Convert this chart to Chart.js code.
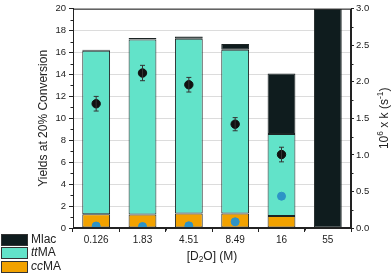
<!DOCTYPE html>
<html>
<head>
<meta charset="utf-8">
<script src="https://cdn.jsdelivr.net/npm/chart.js@4/dist/chart.umd.min.js"></script>
<style>
  body { margin: 0; background: #fff; }
  #wrap { position: relative; width: 392px; height: 277px; }
  .leg { position: absolute; left: 1px; font: 12px "Liberation Sans", Arial, sans-serif; color: #222; }
  .leg span.sw { position: absolute; left: 0; top: 0; width: 25px; height: 10px; border: 1px solid #333; }
  .leg span.tx { position: absolute; left: 30px; top: -2px; white-space: nowrap; }
</style>
</head>
<body>
<div id="wrap">
  <canvas id="myCanvas" width="392" height="277"></canvas>
  <div class="leg" style="top:234px"><span class="sw" style="background:#0f1c1e"></span><span class="tx">Mlac</span></div>
  <div class="leg" style="top:247px"><span class="sw" style="background:#62e3c9"></span><span class="tx"><i>tt</i>MA</span></div>
  <div class="leg" style="top:261px"><span class="sw" style="background:#f2a200"></span><span class="tx"><i>cc</i>MA</span></div>
</div>
<script>
// datos
const concentraciones = ['0.126', '1.83', '4.51', '8.49', '16', '55'];
const ccMA = [1.26, 1.23, 1.32, 1.32, 1.1, 0];
const ttMA = [14.9, 15.96, 15.93, 14.94, 7.48, 0];
const mlac = [0.1, 0.13, 0.22, 0.51, 5.52, 20];
const kNegro = [1.70, 2.12, 1.96, 1.42, 1.005, null];
const kNegroErr = [0.10, 0.105, 0.10, 0.09, 0.10, null];
const kAzul = [0.027, 0.02, 0.03, 0.085, 0.435, null];
const ticksIzq = [0, 2, 4, 6, 8, 10, 12, 14, 16, 18, 20];
const ticksDer = [0, 0.5, 1.0, 1.5, 2.0, 2.5, 3.0];

const FONT = '"Liberation Sans", Arial, sans-serif';
const TXT = '#222';

// dibuja texto con sub/superindices, centrado en (x, y)
function textoRico(ctx, partes, x, y, size) {
  let w = 0;
  partes.forEach(p => {
    ctx.font = (p.s ? size * 0.7 : size) + 'px ' + FONT;
    p.w = ctx.measureText(p.t).width;
    w += p.w;
  });
  let cx = x - w / 2;
  partes.forEach(p => {
    ctx.font = (p.s ? size * 0.7 : size) + 'px ' + FONT;
    let dy = 0;
    if (p.s === 'sup') dy = -size * 0.35;
    if (p.s === 'sub') dy = size * 0.25;
    ctx.fillText(p.t, cx, y + dy);
    cx += p.w;
  });
}

const extras = {
  id: 'extras',
  afterDatasetsDraw(chart) {
    const ctx = chart.ctx;
    const a = chart.chartArea;
    const x = chart.scales.x, y = chart.scales.y, y2 = chart.scales.y2;
    ctx.save();
    // barras de error
    ctx.strokeStyle = '#333';
    ctx.lineWidth = 1;
    kNegro.forEach((v, i) => {
      if (v == null) return;
      const px = x.getPixelForValue(i);
      const t = y2.getPixelForValue(v + kNegroErr[i]);
      const b = y2.getPixelForValue(v - kNegroErr[i]);
      ctx.beginPath();
      ctx.moveTo(px, t); ctx.lineTo(px, b);
      ctx.moveTo(px - 2.5, t); ctx.lineTo(px + 2.5, t);
      ctx.moveTo(px - 2.5, b); ctx.lineTo(px + 2.5, b);
      ctx.stroke();
    });
    // marco
    ctx.strokeStyle = '#222';
    ctx.strokeRect(a.left + 0.5, a.top + 0.5, a.right - a.left - 1, a.bottom - a.top - 1);
    // ticks menores
    ctx.beginPath();
    for (let v = 1; v < 20; v += 2) {
      const py = Math.round(y.getPixelForValue(v)) + 0.5;
      ctx.moveTo(a.left - 2.5, py); ctx.lineTo(a.left, py);
    }
    for (let v = 0.25; v < 3; v += 0.5) {
      const py = Math.round(y2.getPixelForValue(v)) + 0.5;
      ctx.moveTo(a.right, py); ctx.lineTo(a.right + 2.5, py);
    }
    for (let i = 0; i < concentraciones.length - 1; i++) {
      const px = Math.round(x.getPixelForValue(i + 0.5)) + 0.5;
      ctx.moveTo(px, a.bottom); ctx.lineTo(px, a.bottom + 2.5);
    }
    ctx.stroke();
    // titulos de ejes
    ctx.fillStyle = TXT;
    ctx.textBaseline = 'middle';
    ctx.textAlign = 'left';
    const cy = (a.top + a.bottom) / 2;
    textoRico(ctx, [{t: '[D'}, {t: '2', s: 'sub'}, {t: 'O] (M)'}], (a.left + a.right) / 2, 257, 12);
    ctx.save();
    ctx.translate(43.5, cy);
    ctx.rotate(-Math.PI / 2);
    textoRico(ctx, [{t: 'Yields at 20% Conversion'}], 0, 0, 12);
    ctx.restore();
    ctx.save();
    ctx.translate(385, cy);
    ctx.rotate(-Math.PI / 2);
    textoRico(ctx, [{t: '10'}, {t: '6', s: 'sup'}, {t: ' x k (s'}, {t: '-1', s: 'sup'}, {t: ')'}], 0, 0, 12);
    ctx.restore();
    ctx.restore();
  }
};

const barra = { categoryPercentage: 1, barPercentage: 0.6, borderColor: '#1c2424', borderWidth: 1, borderSkipped: false, yAxisID: 'y', order: 2 };

const canvas = document.getElementById('myCanvas');
const ctx = canvas.getContext('2d');
const myChart = new Chart(ctx, {
  data: {
    labels: concentraciones,
    datasets: [
      Object.assign({ type: 'bar', label: 'ccMA', data: ccMA, backgroundColor: '#f2a200' }, barra),
      Object.assign({ type: 'bar', label: 'ttMA', data: ttMA, backgroundColor: '#62e3c9' }, barra),
      Object.assign({ type: 'bar', label: 'Mlac', data: mlac, backgroundColor: '#0f1c1e' }, barra),
      { type: 'line', label: 'k', data: kNegro, yAxisID: 'y2', showLine: false, pointRadius: 4.2,
        pointBackgroundColor: '#111', pointBorderColor: '#111', order: 0 },
      { type: 'line', label: 'k2', data: kAzul, yAxisID: 'y2', showLine: false, pointRadius: 4,
        pointBackgroundColor: '#2e93c6', pointBorderColor: '#2e93c6', order: 0 }
    ]
  },
  options: {
    responsive: false,
    animation: false,
    layout: { padding: { top: 5, left: 0, right: 0, bottom: 0 } },
    plugins: { legend: { display: false }, tooltip: { enabled: false } },
    scales: {
      x: {
        stacked: true,
        grid: { drawOnChartArea: false, tickLength: 4, tickColor: '#222' },
        border: { color: '#222' },
        ticks: { color: TXT, font: { family: FONT, size: 10 }, padding: 2, maxRotation: 0 },
        afterFit(s) { s.height = 49; }
      },
      y: {
        stacked: true,
        min: 0, max: 20,
        afterBuildTicks(s) { s.ticks = ticksIzq.map(v => ({ value: v })); },
        grid: { color: '#dcdcdc', tickLength: 4, tickColor: '#222' },
        border: { color: '#222' },
        ticks: { color: TXT, font: { family: FONT, size: 9.5 }, padding: 3 },
        afterFit(s) { s.width = 73; }
      },
      y2: {
        position: 'right',
        min: 0, max: 3,
        afterBuildTicks(s) { s.ticks = ticksDer.map(v => ({ value: v })); },
        grid: { drawOnChartArea: false, tickLength: 3, tickColor: '#222' },
        border: { color: '#222' },
        ticks: { color: TXT, font: { family: FONT, size: 9.5 }, padding: 2, callback: v => v.toFixed(1) },
        afterFit(s) { s.width = 41; }
      }
    }
  },
  plugins: [extras]
});
</script>
</body>
</html>
